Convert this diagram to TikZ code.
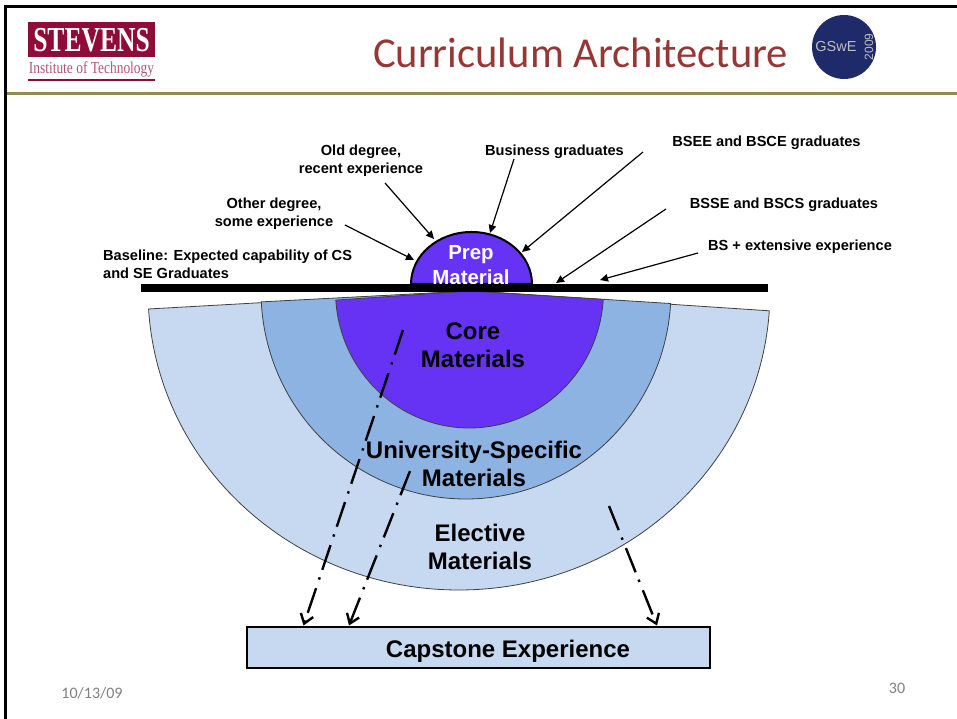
\documentclass[tikz,border=0pt]{standalone}
\usepackage{fontspec}
\setmainfont{Liberation Sans}
\newfontfamily\titlefont{Carlito}
\newfontfamily\logofont[FakeStretch=0.73]{Liberation Serif}
\newfontfamily\sublogofont[FakeStretch=0.8]{Liberation Serif}
\usetikzlibrary{calc}
\usetikzlibrary{arrows.meta}
\definecolor{corecol}{HTML}{6633F5}
\definecolor{unicol}{HTML}{8DB3E2}
\definecolor{electcol}{HTML}{C6D9F0}
\definecolor{logocol}{HTML}{8F0C38}
\definecolor{titlecol}{HTML}{953735}
\definecolor{rulecol}{HTML}{948A54}
\definecolor{gswecol}{HTML}{1F2A6B}
\tikzset{small/.style={font=\fontsize{14.6}{18}\selectfont\bfseries,align=center,inner sep=0pt}}
\tikzset{big/.style={font=\fontsize{24}{28.5}\selectfont\bfseries,align=center,inner sep=0pt}}
\tikzset{sector/.style={draw=black!75,line width=0.8pt}}
\tikzset{source/.style={draw=black,line width=1.2pt,-{Triangle[length=8pt,width=7.5pt]}}}
\tikzset{feed/.style={draw=black,line width=2.4pt,dash pattern=on 26pt off 8pt on 2.4pt off 9pt,-{Straight Barb[length=9pt,width=13pt]}}}
\tikzset{foot/.style={font=\titlefont\fontsize{16}{18}\selectfont,text=black!50,inner sep=0pt}}

\begin{document}
\begin{tikzpicture}[x=1pt,y=1pt]
\useasboundingbox (0,0) rectangle (957,719);

% frame and header
\draw[line width=2.6pt] (5.3,0) -- (5.3,712.7) -- (957,712.7);
\draw[line width=3pt,rulecol] (7,625.5) -- (957,625.5);
\node (title) at (580.5,666) [font=\titlefont\fontsize{42.6}{48}\selectfont,text=titlecol,inner sep=0pt] {Curriculum Architecture};

% logo
\node (logobox) at (91.5,679.5) [fill=logocol,minimum width=127pt,minimum height=35pt,inner sep=0pt] {};
\node (logoline) at (91.5,639) [fill=logocol,minimum width=127pt,minimum height=2pt,inner sep=0pt] {};
\node (stevens) at (91.5,679) [font=\logofont\fontsize{35}{35}\selectfont\bfseries,text=white,inner sep=0pt] {STEVENS};
\node (institute) at (91.5,650) [font=\sublogofont\fontsize{16.8}{18}\selectfont,text=logocol!70,inner sep=0pt] {Institute of Technology};

% badge
\node (gswe) at (844,672) [circle,fill=gswecol,minimum size=64pt,inner sep=0pt] {};
\node (gswetext) at (836,672) [font=\fontsize{14.5}{16}\selectfont,text=black!25,inner sep=0pt] {GSwE};
\node (gsweyear) at (869,672) [rotate=90,font=\fontsize{12}{12}\selectfont,text=black!25,inner sep=0pt] {2009};

% nested sectors
\coordinate (apex) at (470,428);
\foreach \cx/\rx/\ry/\sa/\ea/\col in {459/311/299/183.45/356.2/electcol,466/205/208/183/356.55/unicol,469.5/134/137/183.8/356.45/corecol} {
	\draw[sector,fill=\col] (apex) -- ($ (\cx,428) + (\sa:\rx pt and \ry pt) $) arc[start angle=\sa,end angle=\ea,x radius=\rx pt,y radius=\ry pt] -- cycle;
}

% prep cap and baseline
\draw[line width=2pt,fill=corecol] (411,435) arc[start angle=180,end angle=0,x radius=60.5pt,y radius=52pt] -- cycle;
\node (prep) at (471,454) [big,font=\fontsize{20.4}{24.5}\selectfont\bfseries,text=white] {Prep\\Material};
\coordinate (baseL) at (141,431);
\coordinate (baseR) at (768,431);
\draw[line width=8pt] (baseL) -- (baseR);

% labels
\node (old) at (361,558.5) [small] {Old degree,\\recent experience};
\node (other) at (274,505) [small] {Other degree,\\some experience};
\node (baseline) at (103,455) [small,anchor=west,align=left] {Baseline: Expected capability of CS\\and SE Graduates};
\node (business) at (554.5,567) [small] {Business graduates};
\node (bsee) at (766.5,576) [small] {BSEE and BSCE graduates};
\node (bsse) at (784,514) [small] {BSSE and BSCS graduates};
\node (bsext) at (800,472) [small] {BS + extensive experience};

% who enters where
\coordinate (oldT) at (385,536);
\coordinate (oldH) at (434,480);
\coordinate (otherT) at (345,494);
\coordinate (otherH) at (414,459);
\coordinate (businessT) at (514,560);
\coordinate (businessH) at (490,486);
\coordinate (bseeT) at (643,567);
\coordinate (bseeH) at (522,467);
\coordinate (bsseT) at (666,510);
\coordinate (bsseH) at (556,436);
\coordinate (bsextT) at (698,466);
\coordinate (bsextH) at (600,439);
\foreach \i in {old,other,business,bsee,bsse,bsext} {
	\draw[source] (\i T) -- (\i H);
}

% capstone
\node (capstone) at (478.5,71) [draw=black,line width=2pt,fill=electcol,minimum width=463pt,minimum height=41pt,inner sep=0pt,font=\fontsize{24}{26}\selectfont\bfseries] {\hspace*{59pt}\raisebox{-10pt}[0pt][0pt]{Capstone Experience}};
\coordinate (coreT) at (403,389);
\coordinate (uniT) at (410,248);
\coordinate (electT) at (609,213);
\foreach \i / \j in {coreT/-175,uniT/-129.5,electT/178.5} {
	\draw[feed] (\i) -- ($ (capstone.north) + (\j,1) $);
}

\node (core) at (473,374) [big] {Core\\Materials};
\node (uni) at (474,255) [big] {University-Specific\\Materials};
\node (elective) at (480,172) [big] {Elective\\Materials};

% footer
\node (date) at (92,26) [foot] {10/13/09};
\node (page) at (897,31) [foot] {30};

\end{tikzpicture}
\end{document}
